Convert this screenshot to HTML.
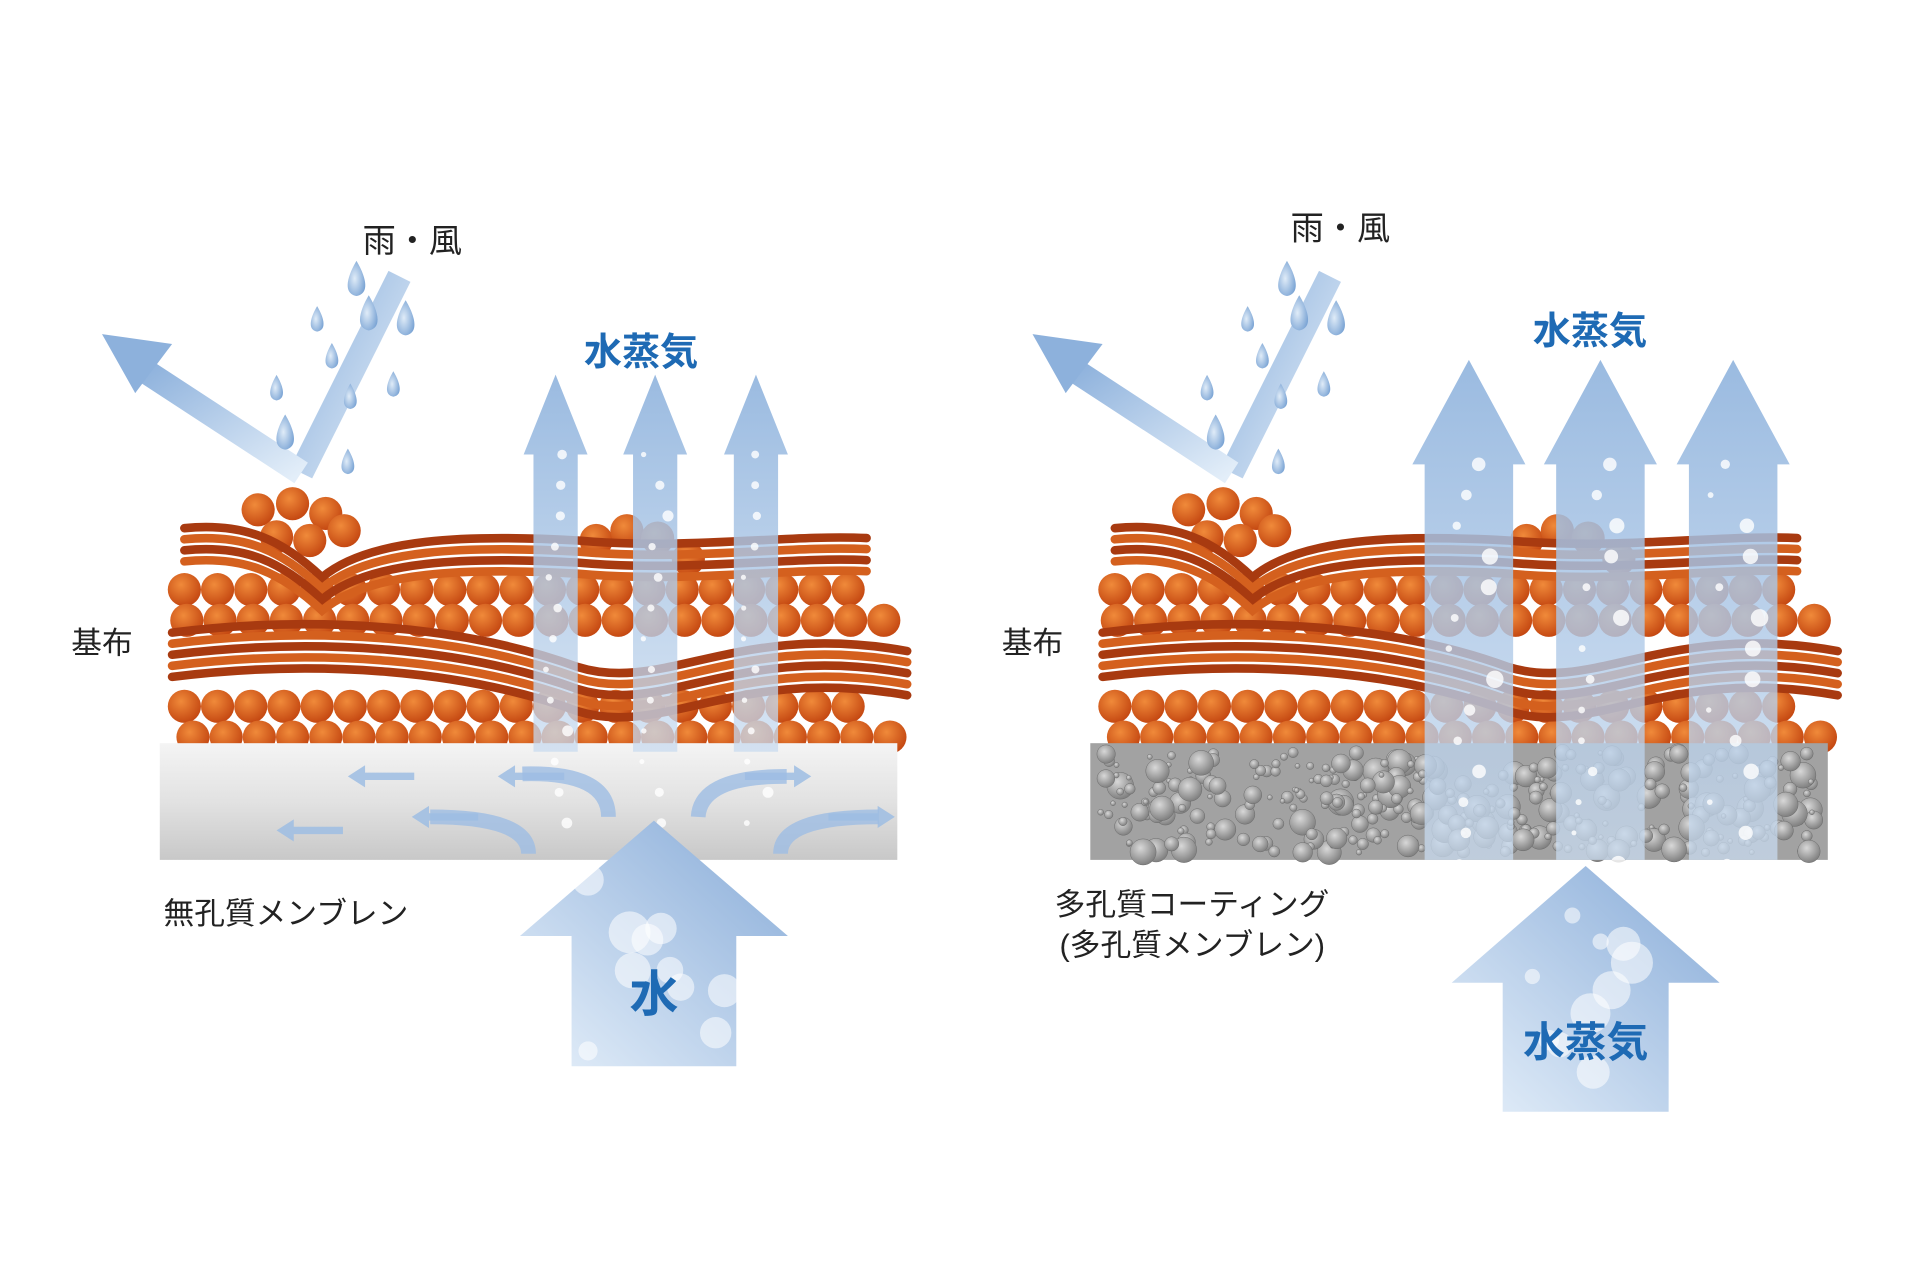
<!DOCTYPE html>
<html><head><meta charset="utf-8">
<style>
html,body{margin:0;padding:0;background:#fff;}
svg{display:block;}
text{font-family:"Liberation Sans","Noto Sans CJK JP",sans-serif;}
</style></head>
<body>
<svg id="s" width="1920" height="1280" viewBox="0 0 1562 1042" preserveAspectRatio="none" xmlns="http://www.w3.org/2000/svg">
<defs>
<linearGradient id="mem" x1="0" y1="0" x2="0" y2="1">
<stop offset="0" stop-color="#f4f4f4"/><stop offset="0.5" stop-color="#e2e2e2"/><stop offset="1" stop-color="#c8c8c8"/></linearGradient>
<linearGradient id="arrU" x1="0" y1="1" x2="0" y2="0">
<stop offset="0" stop-color="#c9dbef" stop-opacity="0.75"/><stop offset="1" stop-color="#8fb3dd" stop-opacity="0.9"/></linearGradient>
<linearGradient id="arrBig" x1="0" y1="1" x2="1" y2="0">
<stop offset="0" stop-color="#e6f0fa"/><stop offset="1" stop-color="#87abd8"/></linearGradient>
<linearGradient id="rain" x1="1" y1="1" x2="0" y2="0">
<stop offset="0" stop-color="#e3eef9"/><stop offset="1" stop-color="#8db1dc"/></linearGradient>
<radialGradient id="ball" cx="0.4" cy="0.35" r="0.7">
<stop offset="0" stop-color="#f08a3a"/><stop offset="1" stop-color="#c2440f"/></radialGradient>
<radialGradient id="drop" cx="0.4" cy="0.5" r="0.7">
<stop offset="0" stop-color="#e0ecf8"/><stop offset="1" stop-color="#6e9bd0"/></radialGradient>
<radialGradient id="bub" cx="0.4" cy="0.35" r="0.7">
<stop offset="0" stop-color="#d8d8d8"/><stop offset="1" stop-color="#7a7a7a"/></radialGradient>
</defs>
<g id="root"></g>
<text x="58" y="532" font-size="25" fill="#222">基布</text>
<text x="133" y="752" font-size="25" fill="#222">無孔質メンブレン</text>
<text x="295" y="205" font-size="27" fill="#222">雨・風</text>
<text x="475" y="297" font-size="31" font-weight="bold" fill="#1e6ab4">水蒸気</text>
<text x="815" y="532" font-size="25" fill="#222">基布</text>
<text x="858" y="745" font-size="25" fill="#222">多孔質コーティング</text>
<text x="862" y="778" font-size="25" fill="#222">(多孔質メンブレン)</text>
<text x="1050" y="195" font-size="27" fill="#222">雨・風</text>
<text x="1247" y="280" font-size="31" font-weight="bold" fill="#1e6ab4">水蒸気</text>
</svg>
<script>
var NS="http://www.w3.org/2000/svg",root=document.getElementById('root');
function el(t,a,p){var e=document.createElementNS(NS,t);for(var k in a)e.setAttribute(k,a[k]);(p||root).appendChild(e);return e;}
function rnd(i){var x=Math.sin(i*12.9898)*43758.5453;return x-Math.floor(x);}
function fabric(ox,porous){
 var g=el('g',{transform:'translate('+ox+',0)'});
 var rows=[[480,150,715],[505,140,725],[575,150,715],[600,145,730]];
 rows.forEach(function(r,ri){for(var x=r[1]+(ri%2)*12;x<r[2];x+=27){el('circle',{cx:x,cy:r[0],r:13.5,fill:'url(#ball)'},g);}});
 [[210,415],[238,410],[265,418],[225,437],[252,440],[280,432],[485,440],[510,432],[535,438],[560,455]].forEach(function(p){el('circle',{cx:p[0],cy:p[1],r:13.5,fill:'url(#ball)'},g);});
 for(var i=0;i<4;i++){var y=430+i*9;
  el('path',{d:'M150 '+y+' C200 '+(y-5)+' 230 '+(y+10)+' 262 '+(y+40)+' C300 '+(y+8)+' 380 '+(y+5)+' 470 '+(y+10)+' C560 '+(y+18)+' 640 '+(y+5)+' 705 '+(y+8),fill:'none',stroke:i%2?'#d4601e':'#a83a10','stroke-width':7,'stroke-linecap':'round'},g);}
 for(var i=0;i<5;i++){var y=515+i*9;
  el('path',{d:'M140 '+y+' C260 '+(y-15)+' 380 '+(y-5)+' 470 '+(y+28)+' C540 '+(y+50)+' 600 '+(y-10)+' 738 '+(y+15),fill:'none',stroke:i%2?'#d4601e':'#a83a10','stroke-width':7,'stroke-linecap':'round'},g);}
 if(!porous){el('rect',{x:130,y:605,width:600,height:95,fill:'url(#mem)'},g);}
 else{el('rect',{x:130,y:605,width:600,height:95,fill:'#a2a2a2'},g);
  for(var i=0;i<380;i++){var r=2+Math.pow(rnd(i),2)*9;el('circle',{cx:138+rnd(i+500)*584,cy:612+rnd(i+900)*82,r:r,fill:'url(#bub)',stroke:'#6a6a6a','stroke-width':0.4},g);}}
 el('path',{d:'M245 385 L325 225',stroke:'url(#rain)','stroke-width':20,fill:'none'},g);
 el('path',{d:'M245 385 L115 300',stroke:'url(#rain)','stroke-width':20,fill:'none'},g);
 el('path',{d:'M83 272 L140 280 L110 320 Z',fill:'#8db1dc'},g);
 [[290,230],[270,292],[285,325],[232,355],[258,262],[320,315],[330,262],[225,318],[283,378],[300,258]].forEach(function(p,i){var s=i%3?8:11;
  el('path',{d:'M'+p[0]+' '+(p[1]-s*1.6)+' C'+(p[0]+s*0.6)+' '+(p[1]-s*0.6)+' '+(p[0]+s*1.1)+' '+(p[1]+s*0.8)+' '+p[0]+' '+(p[1]+s)+' C'+(p[0]-s*1.1)+' '+(p[1]+s*0.8)+' '+(p[0]-s*0.6)+' '+(p[1]-s*0.6)+' '+p[0]+' '+(p[1]-s*1.6)+'Z',fill:'url(#drop)'},g);});
 return g;}
fabric(0,false);fabric(757,true);
function small(x,y,dir){var d=dir<0?'M'+x+' '+y+' l14 -9 v6 h40 v6 h-40 v6 Z':'M'+x+' '+y+' l-14 -9 v6 h-40 v6 h40 v6 Z';el('path',{d:d,fill:'#9dbde3',opacity:0.85});}
small(283,632,-1);small(225,676,-1);small(335,665,-1);small(405,632,-1);small(660,632,1);small(728,665,1);
el('path',{d:'M425 630 Q495 628 495 665',stroke:'#9dbde3','stroke-width':12,fill:'none',opacity:0.8});
el('path',{d:'M640 632 Q570 632 568 665',stroke:'#9dbde3','stroke-width':12,fill:'none',opacity:0.8});
el('path',{d:'M350 665 Q430 665 430 695',stroke:'#9dbde3','stroke-width':12,fill:'none',opacity:0.8});
el('path',{d:'M715 665 Q635 665 635 695',stroke:'#9dbde3','stroke-width':12,fill:'none',opacity:0.8});
function up(cx,top,bot,w,hw,hh){el('path',{d:'M'+(cx-w/2)+' '+bot+' V'+(top+hh)+' H'+(cx-hw/2)+' L'+cx+' '+top+' L'+(cx+hw/2)+' '+(top+hh)+' H'+(cx+w/2)+' V'+bot+' Z',fill:'url(#arrU)'});
 for(var i=0;i<(bot-top)/25;i++){el('circle',{cx:cx+(rnd(cx+i)-0.5)*w*0.6,cy:top+hh+i*25,r:2+rnd(i+cx)*w/14,fill:'#fff',opacity:0.8});}}
up(452,305,612,36,52,65);up(533,305,612,36,52,65);up(615,305,612,36,52,65);
up(1195,293,700,72,92,85);up(1302,293,700,72,92,85);up(1410,293,700,72,92,85);
function big(cx,top,headY,bot,w,hw,label,fs){el('path',{d:'M'+(cx-w/2)+' '+bot+' V'+headY+' H'+(cx-hw/2)+' L'+cx+' '+top+' L'+(cx+hw/2)+' '+headY+' H'+(cx+w/2)+' V'+bot+' Z',fill:'url(#arrBig)'});
 for(var i=0;i<10;i++){el('circle',{cx:cx+(rnd(i*7+cx)-0.5)*w*0.9,cy:top+40+rnd(i*3+cx)*(bot-top-50),r:4+rnd(i+cx*2)*14,fill:'#fff',opacity:0.55});}
 var t=el('text',{x:cx,y:bot-45,'font-size':fs,'font-weight':'bold',fill:'#1e6ab4','text-anchor':'middle'});t.textContent=label;}
big(532,668,762,868,134,218,'水',40);
big(1290,705,800,905,135,218,'水蒸気',34);
</script>
</body></html>
